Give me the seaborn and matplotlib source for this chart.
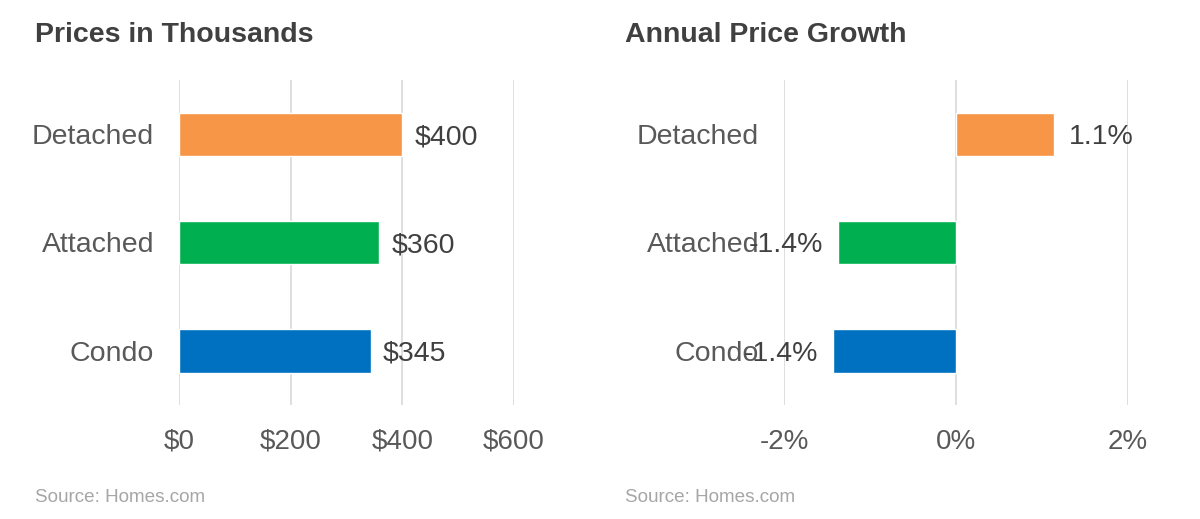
import matplotlib
matplotlib.use("Agg")
import matplotlib.pyplot as plt
import seaborn as sns

# data
categories = ["Detached", "Attached", "Condo"]
prices = [400, 358, 343]
growth = [1.14, -1.37, -1.43]
bar_colors = ["#F79646", "#00B050", "#0070C0"]
price_ticks = [0, 200, 400, 600]
price_tick_labels = ["$0", "$200", "$400", "$600"]
growth_ticks = [-2, 0, 2]
growth_tick_labels = ["-2%", "0%", "2%"]
price_labels = ["$400", "$360", "$345"]
growth_labels = ["1.1%", "-1.4%", "-1.4%"]

sns.set_theme(style="white")
plt.rcParams["font.family"] = ["Liberation Sans", "DejaVu Sans"]

fig = plt.figure(figsize=(12, 5.19), dpi=100)
ax1 = fig.add_axes([179 / 1200, 1 - 405 / 519, 335 / 1200, 325 / 519])
ax2 = fig.add_axes([784 / 1200, 1 - 405 / 519, 344 / 1200, 325 / 519])

text_col = "#595959"
label_col = "#404040"


def style_axis(ax, ticks, tick_labels, xlim):
    ax.set_xlim(*xlim)
    ax.set_ylim(2.5, -0.5)
    ax.set_xticks(ticks)
    ax.set_xticklabels(tick_labels)
    ax.xaxis.grid(True, color="#d9d9d9", linewidth=1.2)
    ax.yaxis.grid(False)
    ax.set_axisbelow(True)
    for s in ax.spines.values():
        s.set_visible(False)
    ax.tick_params(axis="x", length=0, pad=17, labelsize=20, labelcolor=text_col)
    ax.tick_params(axis="y", length=0, pad=18, labelsize=20.5, labelcolor=text_col)
    ax.set_xlabel("")
    ax.set_ylabel("")


sns.barplot(x=prices, y=categories, hue=categories, palette=bar_colors,
            legend=False, width=0.4, saturation=1, ax=ax1)
style_axis(ax1, price_ticks, price_tick_labels, (0, 600))
for i, (v, lab) in enumerate(zip(prices, price_labels)):
    ax1.annotate(lab, (v, i), xytext=(9, 0), textcoords="offset points",
                 ha="left", va="center_baseline", fontsize=20.5, color=label_col)

sns.barplot(x=growth, y=categories, hue=categories, palette=bar_colors,
            legend=False, width=0.4, saturation=1, ax=ax2)
style_axis(ax2, growth_ticks, growth_tick_labels, (-2, 2))
for i, (v, lab) in enumerate(zip(growth, growth_labels)):
    if v >= 0:
        ax2.annotate(lab, (v, i), xytext=(11, 0), textcoords="offset points",
                     ha="left", va="center_baseline", fontsize=20.5, color=label_col)
    else:
        ax2.annotate(lab, (v, i), xytext=(-11, 0), textcoords="offset points",
                     ha="right", va="center_baseline", fontsize=20.5, color=label_col)

fig.text(35 / 1200, 1 - 35 / 519, "Prices in Thousands", fontsize=20.5,
         fontweight="bold", color=label_col, va="center", ha="left")
fig.text(625 / 1200, 1 - 35 / 519, "Annual Price Growth", fontsize=20.5,
         fontweight="bold", color=label_col, va="center", ha="left")
fig.text(35 / 1200, 1 - 497 / 519, "Source: Homes.com", fontsize=13.6,
         color="#a6a6a6", va="center", ha="left")
fig.text(625 / 1200, 1 - 497 / 519, "Source: Homes.com", fontsize=13.6,
         color="#a6a6a6", va="center", ha="left")

fig.savefig("out.png", dpi=100)
